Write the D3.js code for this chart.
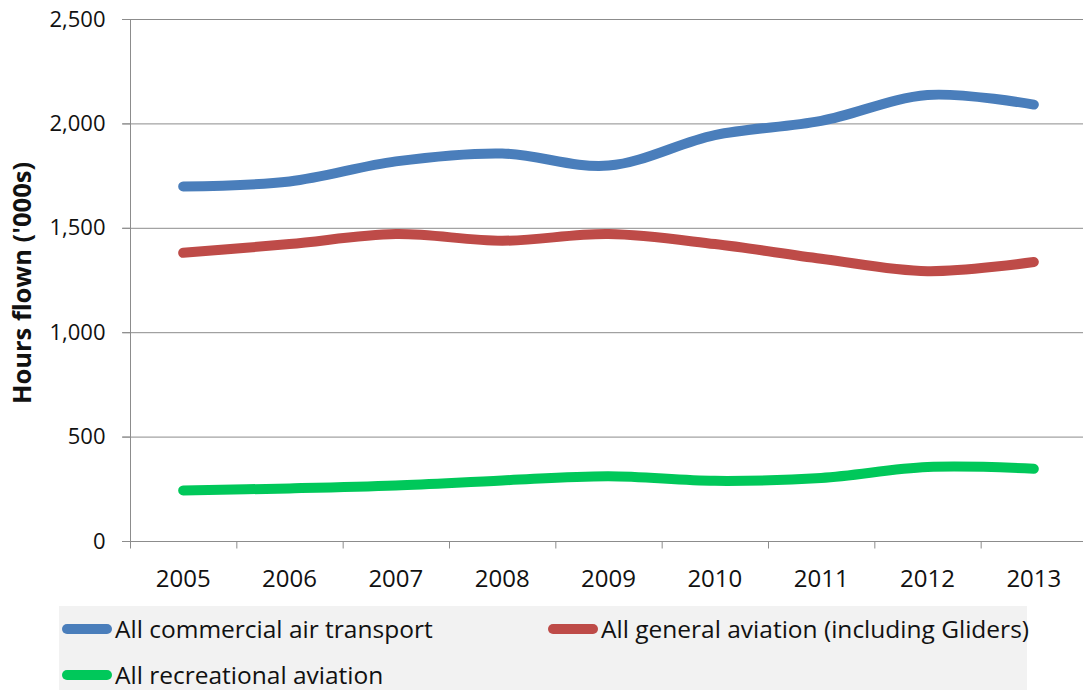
<!DOCTYPE html>
<html><head><meta charset="utf-8">
<script src="https://cdn.jsdelivr.net/npm/d3@7"></script>
<style>body{margin:0;background:#fff}svg{display:block}text{font-family:"Open Sans",Lato,sans-serif;fill:#111}</style>
</head><body><svg id="c" width="1083" height="690"></svg>
<script>
const years = ["2005","2006","2007","2008","2009","2010","2011","2012","2013"];
const commercial = [1698, 1722, 1818, 1856, 1798, 1944, 2012, 2136, 2090];
const general = [1380, 1422, 1470, 1438, 1470, 1422, 1352, 1292, 1336];
const recreational = [242, 252, 266, 290, 310, 288, 302, 354, 346];
const yTicks = [0, 500, 1000, 1500, 2000, 2500];
const seriesNames = ["All commercial air transport", "All general aviation (including Gliders)", "All recreational aviation"];
const colors = ["#4a7ebb", "#be4b48", "#00c85a"];

const svg = d3.select("#c");
const x = d3.scaleBand().domain(years).range([130, 1087]);
const y = d3.scaleLinear().domain([0, 2500]).range([541, 19]);

// gridlines
svg.append("g").selectAll("line").data(yTicks.filter(d=>d>0)).join("line")
  .attr("x1", 122).attr("x2", 1083).attr("y1", d=>y(d)+0.5).attr("y2", d=>y(d)+0.5)
  .attr("stroke", "#8c8c8c").attr("stroke-width", 1);

// y axis
const ya = svg.append("g").attr("transform","translate(130.5,0)")
  .call(d3.axisLeft(y).tickValues(yTicks).tickSize(8).tickPadding(17).tickFormat(d3.format(",")));
ya.select(".domain").attr("stroke","#8c8c8c").attr("d","M0,19V541");
ya.selectAll(".tick line").attr("stroke","#8c8c8c");
ya.selectAll("text").style("font-size","22px").style("font-family","'Open Sans',sans-serif").attr("fill","#111");

// x axis
const xa = svg.append("g").attr("transform","translate(0,541.5)");
xa.append("line").attr("x1",122).attr("x2",1083).attr("stroke","#8c8c8c");
xa.selectAll("line.t").data(years).join("line").attr("class","t")
  .attr("x1",d=>x(d)+0.5).attr("x2",d=>x(d)+0.5).attr("y1",0).attr("y2",7).attr("stroke","#8c8c8c");
xa.selectAll("text").data(years).join("text")
  .attr("x",d=>x(d)+x.bandwidth()/2).attr("y",45).attr("text-anchor","middle")
  .style("font-size","24px").text(d=>d);

// y label
svg.append("text").attr("transform","translate(31,283) rotate(-90)")
  .attr("text-anchor","middle").style("font-size","25.5px").style("font-weight","bold")
  .text("Hours flown ('000s)");

// lines
const line = d3.line().x((d,i)=>x(years[i])+x.bandwidth()/2).y(d=>y(d)).curve(d3.curveCatmullRom.alpha(0.5));
[commercial, general, recreational].forEach((s,i)=>{
  svg.append("path").attr("d", line(s)).attr("fill","none").attr("stroke",colors[i])
    .attr("stroke-width",10).attr("stroke-linecap","round").attr("stroke-linejoin","round");
});

// legend
svg.append("rect").attr("x",59).attr("y",606).attr("width",968).attr("height",84).attr("fill","#f2f2f2");
const leg = [{x:62,y:629},{x:548,y:629},{x:62,y:675}];
leg.forEach((p,i)=>{
  svg.append("line").attr("x1",p.x+5).attr("x2",p.x+45).attr("y1",p.y).attr("y2",p.y)
    .attr("stroke",colors[i]).attr("stroke-width",10).attr("stroke-linecap","round");
  svg.append("text").attr("x",p.x+53).attr("y",p.y+9).style("font-size","24.5px").text(seriesNames[i]);
});
</script></body></html>
